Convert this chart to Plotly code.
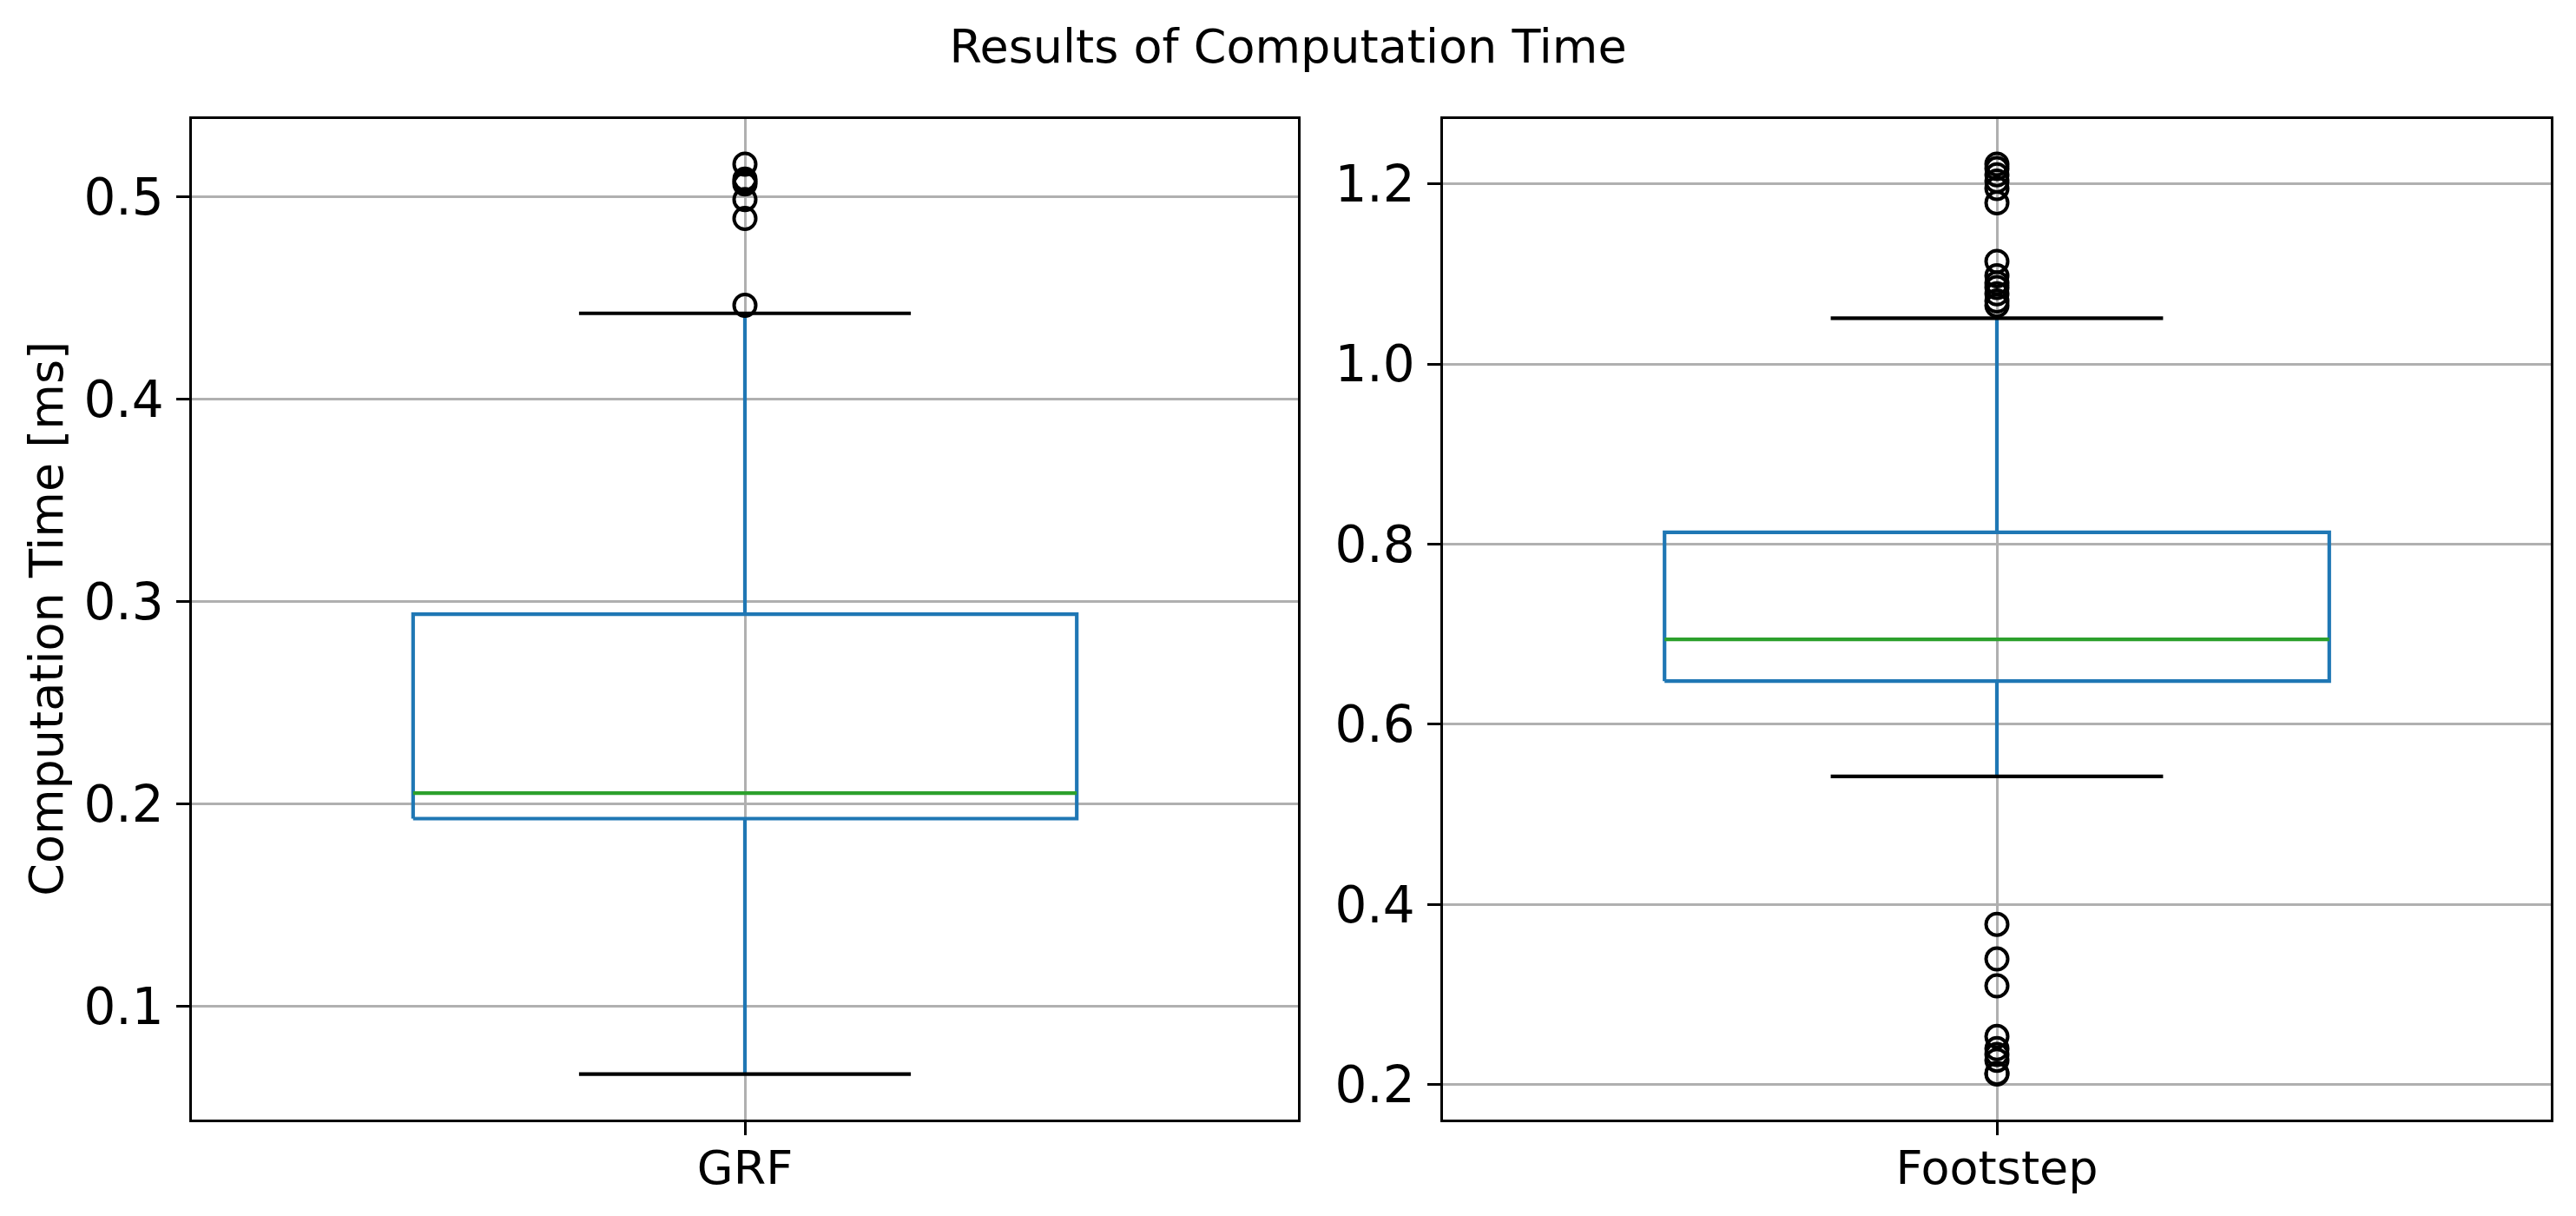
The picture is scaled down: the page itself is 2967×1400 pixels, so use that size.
import plotly.graph_objects as go

# ---- data ----
categories = ["GRF", "Footstep"]
q1 = [0.1927, 0.6480]
median = [0.2053, 0.6943]
q3 = [0.2938, 0.8131]
whisker_low = [0.0664, 0.5421]
whisker_high = [0.4425, 1.0508]
grf_outliers = [0.5163, 0.5088, 0.5077, 0.5065, 0.4988, 0.4894, 0.4465]
footstep_outliers = [1.222, 1.217, 1.210, 1.203, 1.195, 1.179,
                     1.114, 1.098, 1.090, 1.085, 1.078, 1.070, 1.065,
                     0.378, 0.3395, 0.3096, 0.2534, 0.2399, 0.2335, 0.2271, 0.2126, 0.2117]
outliers = [grf_outliers, footstep_outliers]
y_tick_values = [[0.1, 0.2, 0.3, 0.4, 0.5], [0.2, 0.4, 0.6, 0.8, 1.0, 1.2]]

TITLE = "Results of Computation Time"
Y_LABEL = "Computation Time [ms]"

# ---- styling ----
W, H = 2967, 1400          # page size
OFF = 8                    # default body margin of the html page
FW, FH = W - 2 * OFF, H - 2 * OFF
FONT = "DejaVu Sans"
BLUE = "#1f77b4"
GREEN = "#2ca02c"
GRID = "#b0b0b0"
LW = 4.2
SPINE = 3.3
POS = 1.0
BOX_HALF = 0.3
CAP_HALF = 0.15


def px_x(p):
    return (p - OFF) / FW


def px_y(p):
    return 1 - (p - OFF) / FH


x_domains = [[px_x(221), px_x(1495)], [px_x(1662), px_x(2938)]]
y_domain = [px_y(1289), px_y(136.5)]

fig = go.Figure()

for i, cat in enumerate(categories):
    xa = "x" if i == 0 else "x2"
    ya = "y" if i == 0 else "y2"
    common = dict(xaxis=xa, yaxis=ya, showlegend=False, hoverinfo="skip")
    # whiskers
    fig.add_trace(go.Scatter(x=[POS, POS, None, POS, POS],
                             y=[q3[i], whisker_high[i], None, q1[i], whisker_low[i]],
                             mode="lines", line=dict(color=BLUE, width=LW), **common))
    # box
    fig.add_trace(go.Scatter(x=[POS - BOX_HALF, POS + BOX_HALF, POS + BOX_HALF, POS - BOX_HALF, POS - BOX_HALF],
                             y=[q1[i], q1[i], q3[i], q3[i], q1[i]],
                             mode="lines", line=dict(color=BLUE, width=LW), **common))
    # caps
    fig.add_trace(go.Scatter(x=[POS - CAP_HALF, POS + CAP_HALF, None, POS - CAP_HALF, POS + CAP_HALF],
                             y=[whisker_high[i], whisker_high[i], None, whisker_low[i], whisker_low[i]],
                             mode="lines", line=dict(color="black", width=LW), **common))
    # median
    fig.add_trace(go.Scatter(x=[POS - BOX_HALF, POS + BOX_HALF], y=[median[i], median[i]],
                             mode="lines", line=dict(color=GREEN, width=LW), **common))
    # fliers
    fig.add_trace(go.Scatter(x=[POS] * len(outliers[i]), y=outliers[i], mode="markers",
                             marker=dict(symbol="circle-open", size=25, color="black",
                                         line=dict(width=4, color="black")), **common))


def yrange(i):
    lo = min([whisker_low[i]] + outliers[i])
    hi = max([whisker_high[i]] + outliers[i])
    m = 0.05 * (hi - lo)
    return [lo - m, hi + m]


axis_common = dict(showline=True, mirror=True, linecolor="black", linewidth=SPINE,
                   showgrid=True, gridcolor=GRID, gridwidth=SPINE, zeroline=False,
                   ticks="outside", ticklen=14.6, tickwidth=SPINE, tickcolor="black")

layout = dict(width=FW, height=FH, margin=dict(l=0, r=0, t=0, b=0),
              paper_bgcolor="white", plot_bgcolor="white",
              font=dict(family=FONT, color="black"),
              title=dict(text=TITLE, x=0.5, xanchor="center", y=px_y(53), yanchor="middle",
                         font=dict(size=54, family=FONT, color="black")))

for i, cat in enumerate(categories):
    xk = "xaxis" if i == 0 else "xaxis2"
    yk = "yaxis" if i == 0 else "yaxis2"
    layout[xk] = dict(domain=x_domains[i], range=[0.5, 1.5], tickvals=[POS], ticktext=[cat],
                      anchor="y" if i == 0 else "y2", ticklabelstandoff=-9,
                      tickfont=dict(size=54, family=FONT, color="black"), **axis_common)
    layout[yk] = dict(domain=y_domain, range=yrange(i), tickvals=y_tick_values[i], tickformat=".1f",
                      anchor="x" if i == 0 else "x2", ticklabelstandoff=3,
                      tickfont=dict(size=58, family=FONT, color="black"), **axis_common)

fig.update_layout(**layout)

fig.add_annotation(text=Y_LABEL, textangle=-90, xref="paper", yref="paper",
                   x=px_x(54), y=(y_domain[0] + y_domain[1]) / 2, xanchor="center", yanchor="middle",
                   showarrow=False, font=dict(size=54, family=FONT, color="black"))

fig.write_html("out.html")
